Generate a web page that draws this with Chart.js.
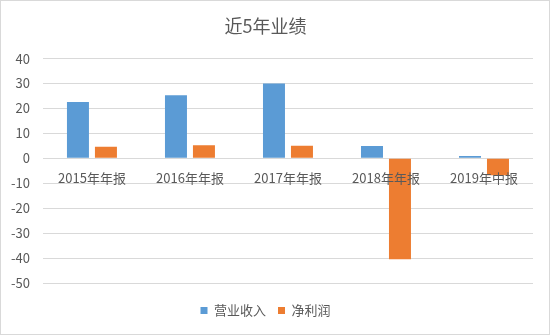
<!DOCTYPE html>
<html>
<head>
<meta charset="utf-8">
<script src="https://cdn.jsdelivr.net/npm/chart.js@4"></script>
<style>
  body { margin: 0; background: #fff; }
  #wrap { width: 550px; height: 335px; border: 1px solid #d9d9d9; box-sizing: border-box; }
</style>
</head>
<body>
<div id="wrap"><canvas id="graph1" width="548" height="333"></canvas></div>
<script>
// 近5年业绩 -- revenue and net profit per report //
const periods = ['2015年年报', '2016年年报', '2017年年报', '2018年年报', '2019年中报'];
const revenue = [22.6, 25.3, 30.0, 4.9, 0.9];
const netProfit = [4.6, 5.2, 5.0, -40.5, -6.8];
const yTicks = [40, 30, 20, 10, 0, -10, -20, -30, -40, -50];

const textColor = '#595959';
const fontFamily = '"Noto Sans CJK SC", "Liberation Sans", sans-serif';

const canvas = document.getElementById('graph1');

new Chart(canvas, {
    type: 'bar',
    data: {
        labels: periods,
        datasets: [{
            label: '营业收入',
            data: revenue,
            backgroundColor: '#5B9BD5',
            barPercentage: 0.786,
            categoryPercentage: 0.571
        }, {
            label: '净利润',
            data: netProfit,
            backgroundColor: '#ED7D31',
            barPercentage: 0.786,
            categoryPercentage: 0.571
        }]
    },
    options: {
        responsive: false,
        animation: false,
        layout: {
            padding: { left: -3, right: 16, top: 0, bottom: 7 }
        },
        plugins: {
            tooltip: { enabled: false },
            title: {
                display: true,
                text: '近5年业绩',
                color: textColor,
                font: { family: fontFamily, size: 18, weight: 'normal' },
                padding: { top: 14, bottom: 22 }
            },
            legend: {
                position: 'bottom',
                labels: {
                    color: textColor,
                    boxWidth: 7,
                    boxHeight: 7,
                    padding: 12,
                    font: { family: fontFamily, size: 13 }
                }
            }
        },
        scales: {
            x: {
                position: { y: 0 },
                grid: { display: false },
                border: { display: false },
                ticks: {
                    z: 1,
                    color: textColor,
                    padding: 4,
                    font: { family: fontFamily, size: 13 }
                }
            },
            // empty strip keeping the legend clear of the plot
            gap: {
                type: 'category',
                position: 'bottom',
                grid: { display: false },
                border: { display: false },
                ticks: { display: false },
                afterFit: function (axis) {
                    axis.height = 9;
                }
            },
            y: {
                min: -50,
                max: 40,
                afterBuildTicks: function (axis) {
                    axis.ticks = yTicks.map(v => ({ value: v }));
                },
                grid: { color: '#d9d9d9', drawTicks: false },
                border: { display: false },
                ticks: {
                    color: textColor,
                    padding: 13,
                    font: { family: fontFamily, size: 13 }
                }
            }
        }
    }
});
</script>
</body>
</html>
